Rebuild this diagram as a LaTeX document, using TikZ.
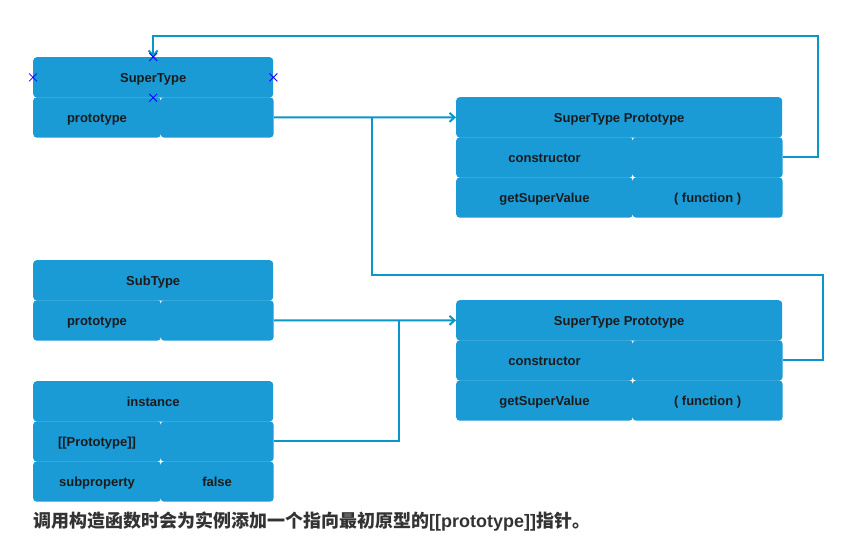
\documentclass[tikz,border=0pt]{standalone}
\usepackage{fontspec}
\setmainfont{Liberation Sans}
\newfontfamily\cjk{Noto Sans CJK SC}
\usetikzlibrary{positioning, arrows.meta, shapes.misc}

\definecolor{cellblue}{HTML}{1A9BD6}
\definecolor{linkblue}{HTML}{0B96C9}
\definecolor{celltext}{HTML}{1B1B1B}
\definecolor{captiongray}{HTML}{333333}

\begin{document}
\begin{tikzpicture}[x=1pt, y=-1pt,
        >={Straight Barb[length=5pt,width=9pt]},
        cell/.style={fill=cellblue, rounded corners=3.5pt, inner sep=0pt,
            minimum height=40.3pt, text height=10.4pt, text depth=0pt, text=celltext,
            font=\bfseries\fontsize{13}{13}\selectfont},
        head node/.style={cell, anchor=north west},
        link/.style={draw=linkblue, line width=2pt},
        xmark/.style={cross out, draw=blue, minimum size=7pt, inner sep=0pt, line width=0.8pt}]

    \useasboundingbox (0,0) rectangle (863,550);

    % Nodes
    \node[head node, minimum width=240pt] (super) at (33,57) {SuperType};
    \node[cell, minimum width=127.6pt, below right=-0.6pt and 0pt of super.south west] (superProto) {prototype};
    \node[cell, minimum width=113pt, right=-0.6pt of superProto] (superProtoVal) {};

    \node[head node, minimum width=326pt] (protoA) at (456,97) {SuperType Prototype};
    \node[cell, minimum width=176.6pt, below right=-0.6pt and 0pt of protoA.south west] (ctorA) {constructor};
    \node[cell, minimum width=150pt, right=-0.6pt of ctorA] (ctorAVal) {};
    \node[cell, minimum width=176.6pt, below=-0.6pt of ctorA] (getA) {getSuperValue};
    \node[cell, minimum width=150pt, right=-0.6pt of getA] (getAVal) {( function )};

    \node[head node, minimum width=240pt] (sub) at (33,260) {SubType};
    \node[cell, minimum width=127.6pt, below right=-0.6pt and 0pt of sub.south west] (subProto) {prototype};
    \node[cell, minimum width=113pt, right=-0.6pt of subProto] (subProtoVal) {};

    \node[head node, minimum width=326pt] (protoB) at (456,300) {SuperType Prototype};
    \node[cell, minimum width=176.6pt, below right=-0.6pt and 0pt of protoB.south west] (ctorB) {constructor};
    \node[cell, minimum width=150pt, right=-0.6pt of ctorB] (ctorBVal) {};
    \node[cell, minimum width=176.6pt, below=-0.6pt of ctorB] (getB) {getSuperValue};
    \node[cell, minimum width=150pt, right=-0.6pt of getB] (getBVal) {( function )};

    \node[head node, minimum width=240pt] (inst) at (33,381) {instance};
    \node[cell, minimum width=127.6pt, below right=-0.6pt and 0pt of inst.south west] (instProto) {[[Prototype]]};
    \node[cell, minimum width=113pt, right=-0.6pt of instProto] (instProtoVal) {};
    \node[cell, minimum width=127.6pt, below=-0.6pt of instProto] (instSub) {subproperty};
    \node[cell, minimum width=113pt, right=-0.6pt of instSub] (instSubVal) {false};

    \node[anchor=west, text=captiongray, inner sep=0pt,
        font=\cjk\bfseries\fontsize{18}{18}\selectfont] (caption) at (33,522)
        {调用构造函数时会为实例添加一个指向最初原型的{\rmfamily[[prototype]]}指针。};

    \coordinate (joinTop) at ([xshift=98pt]superProtoVal.east);
    \coordinate (joinSub) at ([xshift=125pt]subProtoVal.east);

    % Edges
    \draw[link, ->] (superProtoVal.east) -- (protoA.west);
    \draw[link, ->] (ctorAVal.east) -- ++(35,0) |- ([yshift=21pt]super.north) -- (super.north);
    \draw[link] (ctorBVal.east) -- ++(40,0) |- ([yshift=-158pt]joinTop) -- (joinTop);
    \draw[link, ->] (subProtoVal.east) -- (protoB.west);
    \draw[link] (instProtoVal.east) -| (joinSub);

    % Anchor marks
    \foreach \a in {west, north, east, south}
        \node[xmark] at (super.\a) {};

\end{tikzpicture}
\end{document}
